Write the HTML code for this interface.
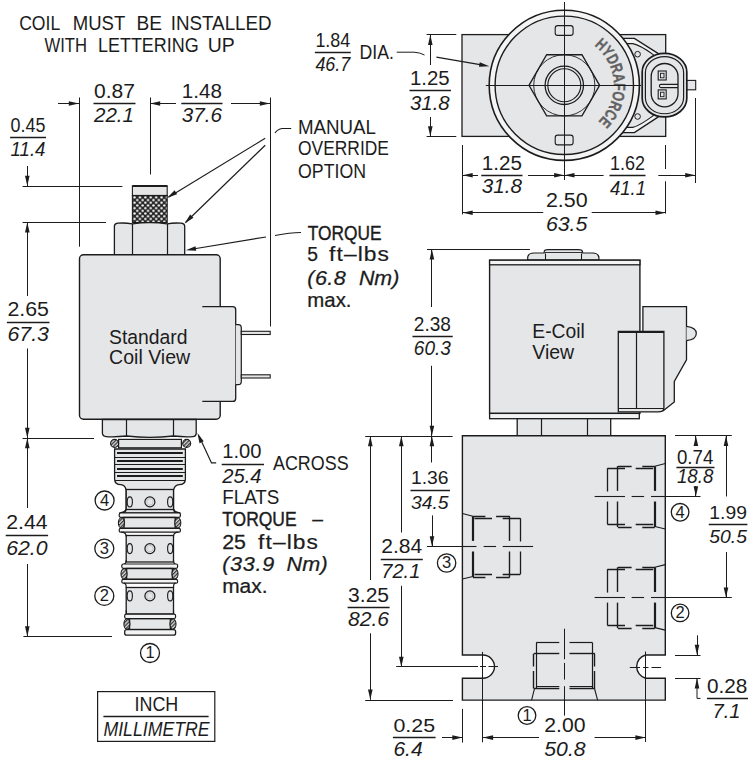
<!DOCTYPE html>
<html><head><meta charset="utf-8"><style>
html,body{margin:0;padding:0;background:#fff;}
svg{display:block;font-family:"Liberation Sans",sans-serif;}
text{white-space:pre;}
</style></head><body>
<svg width="755" height="763" viewBox="0 0 755 763">
<defs>
<pattern id="knurl" width="5.4" height="5.4" patternUnits="userSpaceOnUse" x="133.2" y="196">
<rect width="5.4" height="5.4" fill="#262626"/>
<circle cx="1.35" cy="1.35" r="1.2" fill="#fff"/>
<circle cx="4.05" cy="4.05" r="1.2" fill="#fff"/>
</pattern>
<pattern id="hatch" width="2.6" height="2.6" patternUnits="userSpaceOnUse" patternTransform="rotate(45)">
<rect width="2.6" height="2.6" fill="#d8d8d8"/>
<rect width="1.2" height="2.6" fill="#333"/>
</pattern>
</defs>
<rect width="755" height="763" fill="#fff"/>
<text x="19.2" y="29.7" font-size="19.3" fill="#1c1c1c" textLength="41" lengthAdjust="spacingAndGlyphs" >COIL</text>
<text x="72.8" y="29.7" font-size="19.3" fill="#1c1c1c" textLength="52.5" lengthAdjust="spacingAndGlyphs" >MUST</text>
<text x="136.4" y="29.7" font-size="19.3" fill="#1c1c1c" textLength="25.5" lengthAdjust="spacingAndGlyphs" >BE</text>
<text x="170.7" y="29.7" font-size="19.3" fill="#1c1c1c" textLength="101" lengthAdjust="spacingAndGlyphs" >INSTALLED</text>
<text x="44.5" y="52.2" font-size="19.3" fill="#1c1c1c" textLength="42.5" lengthAdjust="spacingAndGlyphs" >WITH</text>
<text x="98" y="52.2" font-size="19.3" fill="#1c1c1c" textLength="100.7" lengthAdjust="spacingAndGlyphs" >LETTERING</text>
<text transform="translate(207.7,52.2) scale(1.007,1)" font-size="19.3" fill="#1c1c1c" textLength="26.81" lengthAdjust="spacing" >UP</text>
<line x1="79.5" y1="97.5" x2="79.5" y2="246.7" stroke="#1c1c1c" stroke-width="1.0"/>
<line x1="58" y1="103.5" x2="79" y2="103.5" stroke="#1c1c1c" stroke-width="1.0"/>
<path d="M79,103.5 L68.8,105.8 L68.8,101.2 Z" fill="#1c1c1c"/>
<line x1="150.5" y1="97.5" x2="150.5" y2="174.5" stroke="#1c1c1c" stroke-width="1.0"/>
<line x1="150" y1="103.5" x2="176" y2="103.5" stroke="#1c1c1c" stroke-width="1.0"/>
<path d="M150,103.5 L160.2,101.2 L160.2,105.8 Z" fill="#1c1c1c"/>
<line x1="231" y1="103.5" x2="270" y2="103.5" stroke="#1c1c1c" stroke-width="1.0"/>
<path d="M270,103.5 L259.8,105.8 L259.8,101.2 Z" fill="#1c1c1c"/>
<line x1="270.5" y1="97.5" x2="270.5" y2="326.5" stroke="#1c1c1c" stroke-width="1.0"/>
<text transform="translate(94,97.5) scale(1.091,1)" font-size="19.3" fill="#1c1c1c" textLength="37.56" lengthAdjust="spacing" >0.87</text>
<line x1="93.5" y1="103.5" x2="135.5" y2="103.5" stroke="#1c1c1c" stroke-width="1.4"/>
<text transform="translate(94,122.4) scale(1.065,1)" font-size="19.3" fill="#1c1c1c" font-style="italic" textLength="37.56" lengthAdjust="spacing" >22.1</text>
<text transform="translate(181.8,97.5) scale(1.070,1)" font-size="19.3" fill="#1c1c1c" textLength="37.56" lengthAdjust="spacing" >1.48</text>
<line x1="181.3" y1="103.5" x2="222.5" y2="103.5" stroke="#1c1c1c" stroke-width="1.4"/>
<text transform="translate(181.8,122.4) scale(1.070,1)" font-size="19.3" fill="#1c1c1c" font-style="italic" textLength="37.56" lengthAdjust="spacing" >37.6</text>
<text x="10.6" y="131.6" font-size="19.3" fill="#1c1c1c" textLength="34.9" lengthAdjust="spacingAndGlyphs" >0.45</text>
<line x1="10.1" y1="137.5" x2="46" y2="137.5" stroke="#1c1c1c" stroke-width="1.4"/>
<text x="10.6" y="155.5" font-size="19.3" fill="#1c1c1c" font-style="italic" textLength="34.9" lengthAdjust="spacingAndGlyphs" >11.4</text>
<line x1="27.5" y1="166" x2="27.5" y2="186" stroke="#1c1c1c" stroke-width="1.0"/>
<path d="M27.3,186 L25,175.8 L29.6,175.8 Z" fill="#1c1c1c"/>
<line x1="22.5" y1="186.5" x2="122.4" y2="186.5" stroke="#1c1c1c" stroke-width="1.0"/>
<line x1="22.5" y1="222.5" x2="106" y2="222.5" stroke="#1c1c1c" stroke-width="1.0"/>
<line x1="27.5" y1="222.2" x2="27.5" y2="296" stroke="#1c1c1c" stroke-width="1.0"/>
<path d="M27.3,222.2 L29.6,232.4 L25,232.4 Z" fill="#1c1c1c"/>
<text transform="translate(7.4,316.4) scale(1.107,1)" font-size="19.3" fill="#1c1c1c" textLength="37.56" lengthAdjust="spacing" >2.65</text>
<line x1="6.9" y1="322.5" x2="49.5" y2="322.5" stroke="#1c1c1c" stroke-width="1.4"/>
<text transform="translate(7.4,341.3) scale(1.107,1)" font-size="19.3" fill="#1c1c1c" font-style="italic" textLength="37.56" lengthAdjust="spacing" >67.3</text>
<line x1="27.5" y1="348.5" x2="27.5" y2="438" stroke="#1c1c1c" stroke-width="1.0"/>
<path d="M27.3,438 L25,427.8 L29.6,427.8 Z" fill="#1c1c1c"/>
<line x1="22.5" y1="438.5" x2="94" y2="438.5" stroke="#1c1c1c" stroke-width="1.0"/>
<line x1="27.5" y1="438" x2="27.5" y2="508" stroke="#1c1c1c" stroke-width="1.0"/>
<path d="M27.3,438 L29.6,448.2 L25,448.2 Z" fill="#1c1c1c"/>
<text transform="translate(6.2,529.3) scale(1.102,1)" font-size="19.3" fill="#1c1c1c" textLength="37.56" lengthAdjust="spacing" >2.44</text>
<line x1="5.7" y1="535.5" x2="48.1" y2="535.5" stroke="#1c1c1c" stroke-width="1.4"/>
<text transform="translate(6.2,555.2) scale(1.102,1)" font-size="19.3" fill="#1c1c1c" font-style="italic" textLength="37.56" lengthAdjust="spacing" >62.0</text>
<line x1="27.5" y1="564" x2="27.5" y2="636.5" stroke="#1c1c1c" stroke-width="1.0"/>
<path d="M27.3,636.5 L25,626.3 L29.6,626.3 Z" fill="#1c1c1c"/>
<line x1="23.4" y1="636.5" x2="112" y2="636.5" stroke="#1c1c1c" stroke-width="1.0"/>
<text x="298" y="134.1" font-size="19.3" fill="#1c1c1c" textLength="78" lengthAdjust="spacingAndGlyphs" >MANUAL</text>
<text x="298" y="155.4" font-size="19.3" fill="#1c1c1c" textLength="91" lengthAdjust="spacingAndGlyphs" >OVERRIDE</text>
<text x="298" y="177.7" font-size="19.3" fill="#1c1c1c" textLength="68" lengthAdjust="spacingAndGlyphs" >OPTION</text>
<path d="M291.2,128.5 L282,128.5 Q278,129 275,133" fill="none" stroke="#1c1c1c" stroke-width="1.1" />
<line x1="265.2" y1="138.3" x2="168.5" y2="197.2" stroke="#1c1c1c" stroke-width="1.2"/>
<path d="M167.2,197.7 L174.63,190.34 L177.07,194.24 Z" fill="#1c1c1c"/>
<line x1="265.2" y1="145.2" x2="185.5" y2="222.5" stroke="#1c1c1c" stroke-width="1.2"/>
<path d="M184.6,223.4 L190.19,214.56 L193.44,217.81 Z" fill="#1c1c1c"/>
<path d="M301,232.5 Q290,232.5 275,235.5 M266,237 L190,249.5" fill="none" stroke="#1c1c1c" stroke-width="1.2" />
<path d="M185.8,250.2 L195.48,246.25 L196.24,250.79 Z" fill="#1c1c1c"/>
<text x="307.8" y="239.6" font-size="19.3" fill="#1c1c1c" textLength="73.7" lengthAdjust="spacingAndGlyphs" stroke="#1c1c1c" stroke-width="0.4" >TORQUE</text>
<text x="307.3" y="260.8" font-size="19.3" fill="#1c1c1c" stroke="#1c1c1c" stroke-width="0.25" >5</text>
<text transform="translate(329,260.8) scale(1.180,1)" font-size="19.3" fill="#1c1c1c" textLength="50.85" lengthAdjust="spacing" stroke="#1c1c1c" stroke-width="0.2" >ft–lbs</text>
<text transform="translate(307.3,284.6) scale(1.120,1)" font-size="19.3" fill="#1c1c1c" font-style="italic" textLength="34.38" lengthAdjust="spacing" stroke="#1c1c1c" stroke-width="0.25" >(6.8</text>
<text transform="translate(358.9,284.6) scale(1.111,1)" font-size="19.3" fill="#1c1c1c" font-style="italic" textLength="36.44" lengthAdjust="spacing" stroke="#1c1c1c" stroke-width="0.25" >Nm)</text>
<text transform="translate(307.3,306.6) scale(1.057,1)" font-size="19.3" fill="#1c1c1c" textLength="41.82" lengthAdjust="spacing" stroke="#1c1c1c" stroke-width="0.25" >max.</text>
<rect x="132.4" y="185.9" width="34.8" height="9.6" rx="0" fill="#e6e6e6" stroke="#1c1c1c" stroke-width="1.1"/>
<line x1="132.4" y1="186" x2="167.2" y2="186" stroke="#1c1c1c" stroke-width="2.2"/>
<rect x="132.4" y="195.5" width="34.8" height="27" fill="url(#knurl)" stroke="#1c1c1c" stroke-width="1.1"/>
<path d="M114.4,254.8 V226 Q114.6,223.5 118,223.2 Q125,222.6 132.4,223.8 Q150,221.6 167.2,223.8 Q174,222.6 181,223.2 Q184.5,223.5 184.7,226 V254.8 Z" fill="#e5e6e8" stroke="#1c1c1c" stroke-width="1.3" />
<line x1="132.5" y1="223.8" x2="132.5" y2="254.8" stroke="#1c1c1c" stroke-width="1.2"/>
<line x1="167.5" y1="223.8" x2="167.5" y2="254.8" stroke="#1c1c1c" stroke-width="1.2"/>
<rect x="79.5" y="254.8" width="140.7" height="164.5" rx="4" fill="#e5e6e8" stroke="#1c1c1c" stroke-width="1.4"/>
<path d="M202.3,306.7 H232.7 Q235.7,306.7 235.7,309.7 V398.4 Q235.7,401.4 232.7,401.4 H202.3" fill="#e5e6e8" stroke="#1c1c1c" stroke-width="1.3" />
<path d="M235.7,324.6 H238.5 Q241.3,324.6 241.3,328 V381.3 Q241.3,384.7 238.5,384.7 H235.7" fill="#e5e6e8" stroke="#1c1c1c" stroke-width="1.2" />
<rect x="241.3" y="331.3" width="28.9" height="3.2" rx="0" fill="#e5e6e8" stroke="#1c1c1c" stroke-width="1.1"/>
<rect x="241.3" y="374.8" width="28.9" height="3.2" rx="0" fill="#e5e6e8" stroke="#1c1c1c" stroke-width="1.1"/>
<text x="109" y="343.8" font-size="20.5" fill="#1c1c1c" textLength="78.5" lengthAdjust="spacingAndGlyphs" >Standard</text>
<text x="109.1" y="364.3" font-size="20.5" fill="#1c1c1c" textLength="81.1" lengthAdjust="spacingAndGlyphs" >Coil View</text>
<path d="M102.4,419.5 V433.5 Q102.8,436.4 106,436.6 Q115,437.2 126.6,436 Q150,438.6 173.5,436 Q185,437.2 193,436.6 Q196,436.4 196.2,433.5 V419.5 Z" fill="#e5e6e8" stroke="#1c1c1c" stroke-width="1.3" />
<line x1="126.5" y1="419.5" x2="126.5" y2="436.2" stroke="#1c1c1c" stroke-width="1.2"/>
<line x1="173.5" y1="419.5" x2="173.5" y2="436.2" stroke="#1c1c1c" stroke-width="1.2"/>
<path d="M216.2,462.9 H211.5 L199,436" fill="none" stroke="#1c1c1c" stroke-width="1.2" />
<path d="M197.4,433 L203.68,441.36 L199.49,443.25 Z" fill="#1c1c1c"/>
<text transform="translate(222.2,458.1) scale(1.046,1)" font-size="19.3" fill="#1c1c1c" textLength="37.56" lengthAdjust="spacing" >1.00</text>
<line x1="221.7" y1="464.5" x2="264" y2="464.5" stroke="#1c1c1c" stroke-width="1.4"/>
<text transform="translate(222.2,482.5) scale(1.046,1)" font-size="19.3" fill="#1c1c1c" font-style="italic" textLength="37.56" lengthAdjust="spacing" >25.4</text>
<text x="273" y="469.6" font-size="19.3" fill="#1c1c1c" textLength="75.6" lengthAdjust="spacingAndGlyphs" >ACROSS</text>
<text x="222.2" y="503.5" font-size="19.3" fill="#1c1c1c" textLength="57.2" lengthAdjust="spacingAndGlyphs" >FLATS</text>
<text x="222.2" y="526.1" font-size="19.3" fill="#1c1c1c" textLength="74.4" lengthAdjust="spacingAndGlyphs" stroke="#1c1c1c" stroke-width="0.4" >TORQUE</text>
<text x="312.3" y="526.1" font-size="19.3" fill="#1c1c1c" stroke="#1c1c1c" stroke-width="0.25" >–</text>
<text transform="translate(222.2,548.8) scale(1.109,1)" font-size="19.3" fill="#1c1c1c" textLength="21.47" lengthAdjust="spacing" stroke="#1c1c1c" stroke-width="0.25" >25</text>
<text transform="translate(258,548.8) scale(1.180,1)" font-size="19.3" fill="#1c1c1c" textLength="50.85" lengthAdjust="spacing" stroke="#1c1c1c" stroke-width="0.2" >ft–lbs</text>
<text transform="translate(222.2,571.4) scale(1.120,1)" font-size="19.3" fill="#1c1c1c" font-style="italic" textLength="46.43" lengthAdjust="spacing" stroke="#1c1c1c" stroke-width="0.25" >(33.9</text>
<text transform="translate(286.6,571.4) scale(1.120,1)" font-size="19.3" fill="#1c1c1c" font-style="italic" textLength="36.61" lengthAdjust="spacing" stroke="#1c1c1c" stroke-width="0.25" >Nm)</text>
<text transform="translate(222.2,592.9) scale(1.083,1)" font-size="19.3" fill="#1c1c1c" textLength="41.82" lengthAdjust="spacing" stroke="#1c1c1c" stroke-width="0.25" >max.</text>
<rect x="118.6" y="439.4" width="62.8" height="8.4" rx="0" fill="#e5e6e8" stroke="#1c1c1c" stroke-width="1.2"/>
<circle cx="114.6" cy="443.4" r="4" fill="url(#hatch)" stroke="#1c1c1c" stroke-width="1.1"/>
<circle cx="186.7" cy="443.4" r="4" fill="url(#hatch)" stroke="#1c1c1c" stroke-width="1.1"/>
<path d="M114.6,449 H185.4 V479 Q185.4,484.7 179,484.7 Q175,485 173.5,490 V508.5 Q174,512 180.4,513 L119.4,513 Q125.8,512 126.2,508.5 V490 Q124.8,485 121,484.7 Q114.6,484.7 114.6,479 Z" fill="#e5e6e8" stroke="#1c1c1c" stroke-width="1.3" />
<line x1="115" y1="457.5" x2="185" y2="457.5" stroke="#1c1c1c" stroke-width="1.2"/>
<line x1="115" y1="464.5" x2="185" y2="464.5" stroke="#1c1c1c" stroke-width="1.2"/>
<line x1="115" y1="472.5" x2="185" y2="472.5" stroke="#1c1c1c" stroke-width="1.2"/>
<line x1="115" y1="480.5" x2="185" y2="480.5" stroke="#1c1c1c" stroke-width="1.2"/>
<line x1="117" y1="453" x2="182.8" y2="453" stroke="#1c1c1c" stroke-width="2.1"/>
<line x1="117" y1="461" x2="182.8" y2="461" stroke="#1c1c1c" stroke-width="2.1"/>
<line x1="117" y1="469" x2="182.8" y2="469" stroke="#1c1c1c" stroke-width="2.1"/>
<line x1="117" y1="476" x2="182.8" y2="476" stroke="#1c1c1c" stroke-width="2.1"/>
<line x1="125.8" y1="489.5" x2="173.5" y2="489.5" stroke="#1c1c1c" stroke-width="1.0"/>
<rect x="126.2" y="489.5" width="47.3" height="20" rx="0" fill="#e5e6e8" stroke="#1c1c1c" stroke-width="1.3"/>
<ellipse cx="149.9" cy="501.9" rx="5" ry="5" fill="#e5e6e8" stroke="#1c1c1c" stroke-width="1.2"/>
<circle cx="149.9" cy="501.9" r="3.2" fill="none" stroke="#bdbdbd" stroke-width="0.8"/>
<ellipse cx="129.8" cy="501.9" rx="2.6" ry="5" fill="#e5e6e8" stroke="#1c1c1c" stroke-width="1.1"/>
<ellipse cx="170.2" cy="501.9" rx="2.6" ry="5" fill="#e5e6e8" stroke="#1c1c1c" stroke-width="1.1"/>
<rect x="126.2" y="535.5" width="47.3" height="26.5" rx="0" fill="#e5e6e8" stroke="#1c1c1c" stroke-width="1.3"/>
<ellipse cx="149.9" cy="548.6" rx="5" ry="5" fill="#e5e6e8" stroke="#1c1c1c" stroke-width="1.2"/>
<circle cx="149.9" cy="548.6" r="3.2" fill="none" stroke="#bdbdbd" stroke-width="0.8"/>
<ellipse cx="129.8" cy="548.6" rx="2.6" ry="5" fill="#e5e6e8" stroke="#1c1c1c" stroke-width="1.1"/>
<ellipse cx="170.2" cy="548.6" rx="2.6" ry="5" fill="#e5e6e8" stroke="#1c1c1c" stroke-width="1.1"/>
<rect x="126.2" y="587.5" width="47.3" height="26.5" rx="0" fill="#e5e6e8" stroke="#1c1c1c" stroke-width="1.3"/>
<ellipse cx="149.9" cy="595.9" rx="5" ry="5" fill="#e5e6e8" stroke="#1c1c1c" stroke-width="1.2"/>
<circle cx="149.9" cy="595.9" r="3.2" fill="none" stroke="#bdbdbd" stroke-width="0.8"/>
<ellipse cx="129.8" cy="595.9" rx="2.6" ry="5" fill="#e5e6e8" stroke="#1c1c1c" stroke-width="1.1"/>
<ellipse cx="170.2" cy="595.9" rx="2.6" ry="5" fill="#e5e6e8" stroke="#1c1c1c" stroke-width="1.1"/>
<path d="M126.2,509 Q126.2,513 121.2,513 M173.5,509 Q173.5,513 178.4,513" fill="none" stroke="#1c1c1c" stroke-width="1.2" />
<rect x="119.2" y="513" width="61.2" height="4.3" rx="1.5" fill="#f3f3f4" stroke="#1c1c1c" stroke-width="1.2"/>
<rect x="124" y="517.5" width="51.2" height="10.8" rx="0" fill="#e5e6e8" stroke="#1c1c1c" stroke-width="1.4"/>
<ellipse cx="121.4" cy="522.9" rx="3" ry="5.2" fill="url(#hatch)" stroke="#1c1c1c" stroke-width="1.1"/>
<ellipse cx="177.8" cy="522.9" rx="3" ry="5.2" fill="url(#hatch)" stroke="#1c1c1c" stroke-width="1.1"/>
<rect x="119.2" y="528.4" width="61.2" height="3.8" rx="1.5" fill="#f3f3f4" stroke="#1c1c1c" stroke-width="1.2"/>
<path d="M126.2,536.5 Q126.2,532.2 121.2,532.2 M173.5,536.5 Q173.5,532.2 178.4,532.2" fill="none" stroke="#1c1c1c" stroke-width="1.2" />
<path d="M126.2,560 Q126.2,564 123.8,564 M173.5,560 Q173.5,564 175.6,564" fill="none" stroke="#1c1c1c" stroke-width="1.2" />
<rect x="121.8" y="564" width="55.8" height="4.3" rx="1.5" fill="#f3f3f4" stroke="#1c1c1c" stroke-width="1.2"/>
<rect x="126.6" y="568.5" width="45.8" height="10.8" rx="0" fill="#e5e6e8" stroke="#1c1c1c" stroke-width="1.4"/>
<ellipse cx="124" cy="573.9" rx="3" ry="5.2" fill="url(#hatch)" stroke="#1c1c1c" stroke-width="1.1"/>
<ellipse cx="175" cy="573.9" rx="3" ry="5.2" fill="url(#hatch)" stroke="#1c1c1c" stroke-width="1.1"/>
<rect x="121.8" y="579.4" width="55.8" height="3.8" rx="1.5" fill="#f3f3f4" stroke="#1c1c1c" stroke-width="1.2"/>
<path d="M126.2,587.5 Q126.2,583.2 123.8,583.2 M173.5,587.5 Q173.5,583.2 175.6,583.2" fill="none" stroke="#1c1c1c" stroke-width="1.2" />
<path d="M126.2,610.2 Q126.2,614.2 126.7,614.2 M173.5,610.2 Q173.5,614.2 173.6,614.2" fill="none" stroke="#1c1c1c" stroke-width="1.2" />
<rect x="124.7" y="614.2" width="50.9" height="4.3" rx="1.5" fill="#f3f3f4" stroke="#1c1c1c" stroke-width="1.2"/>
<rect x="129.5" y="618.7" width="40.9" height="10.8" rx="0" fill="#e5e6e8" stroke="#1c1c1c" stroke-width="1.4"/>
<ellipse cx="126.9" cy="624.1" rx="3" ry="5.2" fill="url(#hatch)" stroke="#1c1c1c" stroke-width="1.1"/>
<ellipse cx="173" cy="624.1" rx="3" ry="5.2" fill="url(#hatch)" stroke="#1c1c1c" stroke-width="1.1"/>
<rect x="124.7" y="629.6" width="50.9" height="5.6" rx="2" fill="#f3f3f4" stroke="#1c1c1c" stroke-width="1.3"/>
<circle cx="104.6" cy="500.5" r="9.5" fill="none" stroke="#1c1c1c" stroke-width="1.3"/>
<text x="104.6" y="505.9" font-size="16.5" fill="#1c1c1c" text-anchor="middle" >4</text>
<circle cx="104.3" cy="548.6" r="9.5" fill="none" stroke="#1c1c1c" stroke-width="1.3"/>
<text x="104.3" y="554" font-size="16.5" fill="#1c1c1c" text-anchor="middle" >3</text>
<circle cx="104.3" cy="595.9" r="9.5" fill="none" stroke="#1c1c1c" stroke-width="1.3"/>
<text x="104.3" y="601.3" font-size="16.5" fill="#1c1c1c" text-anchor="middle" >2</text>
<circle cx="150" cy="653" r="9.5" fill="none" stroke="#1c1c1c" stroke-width="1.3"/>
<text x="150" y="658.4" font-size="16.5" fill="#1c1c1c" text-anchor="middle" >1</text>
<rect x="97.6" y="691.6" width="117.2" height="49.8" rx="0" fill="none" stroke="#1c1c1c" stroke-width="1.2"/>
<text x="134.5" y="711" font-size="19.3" fill="#1c1c1c" textLength="43.8" lengthAdjust="spacingAndGlyphs" >INCH</text>
<line x1="103.4" y1="716.5" x2="208.6" y2="716.5" stroke="#1c1c1c" stroke-width="1.4"/>
<text x="103.4" y="735.5" font-size="19.3" fill="#1c1c1c" font-style="italic" textLength="106.3" lengthAdjust="spacingAndGlyphs" >MILLIMETRE</text>
<rect x="462" y="34.6" width="203.7" height="101.8" rx="0" fill="#e5e6e8" stroke="#1c1c1c" stroke-width="1.3"/>
<path d="M621.8,38.4 H634.4 L658,53.3 V117 L634.4,132.6 H621.8" fill="#f3f3f4" stroke="#1c1c1c" stroke-width="1.4" />
<path d="M626.5,43.6 H632.8 Q640,45 653.3,54.6 V115.6 Q640,125.5 632.8,127.4 H626.5" fill="#e5e6e8" stroke="#1c1c1c" stroke-width="1.1" />
<circle cx="637.6" cy="54.2" r="2.8" fill="none" stroke="#1c1c1c" stroke-width="1.0"/>
<circle cx="637.6" cy="116.5" r="2.8" fill="none" stroke="#1c1c1c" stroke-width="1.0"/>
<path d="M642.2,72 A22.3,18.7 0 0 1 686.8,72 V98.3 A22.3,18.7 0 0 1 642.2,98.3 Z" fill="#e5e6e8" stroke="#1c1c1c" stroke-width="1.7" />
<path d="M645.4,72.5 A19.1,16 0 0 1 683.6,72.5 V97.8 A19.1,16 0 0 1 645.4,97.8 Z" fill="none" stroke="#1c1c1c" stroke-width="1.2" />
<path d="M651.2,76.5 A13.4,13 0 0 1 678,76.5 V93.8 A13.4,13 0 0 1 651.2,93.8 Z" fill="none" stroke="#1c1c1c" stroke-width="1.3" />
<path d="M678,84.4 H661 Q659.4,84.4 659.4,86 Q659.4,87.6 661,87.6 H678" fill="none" stroke="#1c1c1c" stroke-width="1.1" />
<rect x="658.2" y="71" width="8" height="9" rx="0" fill="#e5e6e8" stroke="#1c1c1c" stroke-width="1.1"/>
<rect x="660.5" y="73.3" width="3.5" height="4.5" rx="0" fill="none" stroke="#1c1c1c" stroke-width="0.9"/>
<rect x="658.2" y="89.9" width="8" height="9" rx="0" fill="#e5e6e8" stroke="#1c1c1c" stroke-width="1.1"/>
<rect x="660.5" y="92.2" width="3.5" height="4.5" rx="0" fill="none" stroke="#1c1c1c" stroke-width="0.9"/>
<rect x="687.1" y="80.4" width="8.6" height="9.4" rx="0" fill="#e5e6e8" stroke="#1c1c1c" stroke-width="1.1"/>
<circle cx="564.3" cy="85.3" r="75.1" fill="#f4f4f5" stroke="#1c1c1c" stroke-width="1.6"/>
<circle cx="564.3" cy="85.3" r="69.2" fill="#e5e6e8" stroke="#1c1c1c" stroke-width="1.4"/>
<rect x="555.2" y="25.6" width="17.9" height="9.8" rx="2.5" fill="#e5e6e8" stroke="#1c1c1c" stroke-width="1.1"/>
<rect x="555.2" y="135.1" width="17.9" height="9.8" rx="2.5" fill="#e5e6e8" stroke="#1c1c1c" stroke-width="1.1"/>
<polygon points="599.6,85.3 581.95,115.87 546.65,115.87 529,85.3 546.65,54.73 581.95,54.73" fill="#e5e6e8" stroke="#1c1c1c" stroke-width="1.3"/>
<circle cx="564.3" cy="85.3" r="30.6" fill="none" stroke="#1c1c1c" stroke-width="0.9"/>
<circle cx="564.3" cy="85.3" r="19.2" fill="#e5e6e8" stroke="#1c1c1c" stroke-width="1.3"/>
<circle cx="564.3" cy="85.3" r="16.5" fill="none" stroke="#1c1c1c" stroke-width="1.1"/>
<line x1="556.8" y1="85.5" x2="571.8" y2="85.5" stroke="#1c1c1c" stroke-width="1.0"/>
<line x1="564.5" y1="77.8" x2="564.5" y2="92.8" stroke="#1c1c1c" stroke-width="1.0"/>
<text transform="translate(597.5,48.58) rotate(42.12) scale(0.742,1)" font-size="16.5" font-weight="bold" fill="#626262" stroke="#626262" stroke-width="0.35" text-anchor="middle">H</text>
<text transform="translate(603.29,54.8) rotate(51.96) scale(0.742,1)" font-size="16.5" font-weight="bold" fill="#626262" stroke="#626262" stroke-width="0.35" text-anchor="middle">Y</text>
<text transform="translate(607.93,61.91) rotate(61.81) scale(0.742,1)" font-size="16.5" font-weight="bold" fill="#626262" stroke="#626262" stroke-width="0.35" text-anchor="middle">D</text>
<text transform="translate(611.39,70.04) rotate(72.04) scale(0.742,1)" font-size="16.5" font-weight="bold" fill="#626262" stroke="#626262" stroke-width="0.35" text-anchor="middle">R</text>
<text transform="translate(613.35,78.65) rotate(82.28) scale(0.742,1)" font-size="16.5" font-weight="bold" fill="#626262" stroke="#626262" stroke-width="0.35" text-anchor="middle">A</text>
<text transform="translate(613.78,86.79) rotate(91.72) scale(0.742,1)" font-size="16.5" font-weight="bold" fill="#626262" stroke="#626262" stroke-width="0.35" text-anchor="middle">F</text>
<text transform="translate(612.8,95.22) rotate(101.56) scale(0.742,1)" font-size="16.5" font-weight="bold" fill="#626262" stroke="#626262" stroke-width="0.35" text-anchor="middle">O</text>
<text transform="translate(610.13,104) rotate(112.19) scale(0.742,1)" font-size="16.5" font-weight="bold" fill="#626262" stroke="#626262" stroke-width="0.35" text-anchor="middle">R</text>
<text transform="translate(606.08,111.84) rotate(122.43) scale(0.742,1)" font-size="16.5" font-weight="bold" fill="#626262" stroke="#626262" stroke-width="0.35" text-anchor="middle">C</text>
<text transform="translate(600.93,118.6) rotate(132.27) scale(0.742,1)" font-size="16.5" font-weight="bold" fill="#626262" stroke="#626262" stroke-width="0.35" text-anchor="middle">E</text>
<line x1="485.8" y1="85.5" x2="641" y2="85.5" stroke="#1c1c1c" stroke-width="1.0"/>
<line x1="564.5" y1="2" x2="564.5" y2="180" stroke="#1c1c1c" stroke-width="1.0"/>
<text x="315.4" y="47.2" font-size="19.3" fill="#1c1c1c" textLength="34.9" lengthAdjust="spacingAndGlyphs" >1.84</text>
<line x1="314.9" y1="52.5" x2="350.8" y2="52.5" stroke="#1c1c1c" stroke-width="1.4"/>
<text x="315.4" y="71" font-size="19.3" fill="#1c1c1c" font-style="italic" textLength="34.9" lengthAdjust="spacingAndGlyphs" >46.7</text>
<text x="359.6" y="58.8" font-size="19.3" fill="#1c1c1c" textLength="34.4" lengthAdjust="spacingAndGlyphs" >DIA.</text>
<path d="M396.7,52.2 H414 Q420,52.5 424.5,55" fill="none" stroke="#1c1c1c" stroke-width="1.0" />
<line x1="436.4" y1="57.2" x2="480" y2="64.6" stroke="#1c1c1c" stroke-width="1.2"/>
<path d="M489.4,66.2 L478.96,66.75 L479.73,62.22 Z" fill="#1c1c1c"/>
<line x1="426.6" y1="34.5" x2="456.3" y2="34.5" stroke="#1c1c1c" stroke-width="1.0"/>
<line x1="426.6" y1="136.5" x2="456.3" y2="136.5" stroke="#1c1c1c" stroke-width="1.0"/>
<line x1="430.5" y1="34.8" x2="430.5" y2="65" stroke="#1c1c1c" stroke-width="1.0"/>
<path d="M430.3,34.8 L432.6,45 L428,45 Z" fill="#1c1c1c"/>
<line x1="430.5" y1="117" x2="430.5" y2="136.4" stroke="#1c1c1c" stroke-width="1.0"/>
<path d="M430.3,136.4 L428,126.2 L432.6,126.2 Z" fill="#1c1c1c"/>
<text transform="translate(410,85.3) scale(1.057,1)" font-size="19.3" fill="#1c1c1c" textLength="37.56" lengthAdjust="spacing" >1.25</text>
<line x1="409.5" y1="90.5" x2="451" y2="90.5" stroke="#1c1c1c" stroke-width="1.4"/>
<text transform="translate(410,110) scale(1.057,1)" font-size="19.3" fill="#1c1c1c" font-style="italic" textLength="37.56" lengthAdjust="spacing" >31.8</text>
<line x1="462.5" y1="145" x2="462.5" y2="214.4" stroke="#1c1c1c" stroke-width="1.0"/>
<line x1="462.5" y1="175.5" x2="478" y2="175.5" stroke="#1c1c1c" stroke-width="1.0"/>
<path d="M462.5,175.2 L472.7,172.9 L472.7,177.5 Z" fill="#1c1c1c"/>
<line x1="528" y1="175.5" x2="564.3" y2="175.5" stroke="#1c1c1c" stroke-width="1.0"/>
<path d="M564.3,175.2 L554.1,177.5 L554.1,172.9 Z" fill="#1c1c1c"/>
<line x1="564.3" y1="175.5" x2="603.6" y2="175.5" stroke="#1c1c1c" stroke-width="1.0"/>
<path d="M564.3,175.2 L574.5,172.9 L574.5,177.5 Z" fill="#1c1c1c"/>
<line x1="658.3" y1="175.5" x2="695.4" y2="175.5" stroke="#1c1c1c" stroke-width="1.0"/>
<path d="M695.4,175.2 L685.2,177.5 L685.2,172.9 Z" fill="#1c1c1c"/>
<line x1="695.5" y1="98" x2="695.5" y2="183" stroke="#1c1c1c" stroke-width="1.0"/>
<line x1="665.5" y1="145" x2="665.5" y2="169" stroke="#1c1c1c" stroke-width="1.0"/>
<line x1="665.5" y1="181.3" x2="665.5" y2="213.6" stroke="#1c1c1c" stroke-width="1.0"/>
<text transform="translate(481.8,169.5) scale(1.070,1)" font-size="19.3" fill="#1c1c1c" textLength="37.56" lengthAdjust="spacing" >1.25</text>
<line x1="481.3" y1="175.5" x2="522.5" y2="175.5" stroke="#1c1c1c" stroke-width="1.4"/>
<text transform="translate(481.8,193.4) scale(1.070,1)" font-size="19.3" fill="#1c1c1c" font-style="italic" textLength="37.56" lengthAdjust="spacing" >31.8</text>
<text x="610" y="169.5" font-size="19.3" fill="#1c1c1c" textLength="35" lengthAdjust="spacingAndGlyphs" >1.62</text>
<line x1="609.5" y1="175.5" x2="645.5" y2="175.5" stroke="#1c1c1c" stroke-width="1.4"/>
<text x="610" y="194.7" font-size="19.3" fill="#1c1c1c" font-style="italic" textLength="36" lengthAdjust="spacingAndGlyphs" >41.1</text>
<line x1="462.5" y1="212.5" x2="543.2" y2="212.5" stroke="#1c1c1c" stroke-width="1.0"/>
<path d="M462.5,212.8 L472.7,210.5 L472.7,215.1 Z" fill="#1c1c1c"/>
<line x1="591.7" y1="212.5" x2="665.7" y2="212.5" stroke="#1c1c1c" stroke-width="1.0"/>
<path d="M665.7,212.8 L655.5,215.1 L655.5,210.5 Z" fill="#1c1c1c"/>
<text transform="translate(545.9,207) scale(1.113,1)" font-size="19.3" fill="#1c1c1c" textLength="37.56" lengthAdjust="spacing" >2.50</text>
<text transform="translate(545.9,230.8) scale(1.105,1)" font-size="19.3" fill="#1c1c1c" font-style="italic" textLength="37.56" lengthAdjust="spacing" >63.5</text>
<line x1="427" y1="249.5" x2="530" y2="249.5" stroke="#1c1c1c" stroke-width="1.0"/>
<line x1="431.5" y1="249.3" x2="431.5" y2="307" stroke="#1c1c1c" stroke-width="1.0"/>
<path d="M431.9,249.3 L434.2,259.5 L429.6,259.5 Z" fill="#1c1c1c"/>
<text x="413.8" y="330.5" font-size="19.3" fill="#1c1c1c" textLength="37.1" lengthAdjust="spacingAndGlyphs" >2.38</text>
<line x1="412.5" y1="336.5" x2="452.7" y2="336.5" stroke="#1c1c1c" stroke-width="1.4"/>
<text x="413.8" y="355.4" font-size="19.3" fill="#1c1c1c" font-style="italic" textLength="37.1" lengthAdjust="spacingAndGlyphs" >60.3</text>
<line x1="431.5" y1="365.8" x2="431.5" y2="436" stroke="#1c1c1c" stroke-width="1.0"/>
<path d="M431.9,436 L429.6,425.8 L434.2,425.8 Z" fill="#1c1c1c"/>
<line x1="365.2" y1="436.5" x2="452.6" y2="436.5" stroke="#1c1c1c" stroke-width="1.0"/>
<line x1="431.5" y1="436" x2="431.5" y2="462.5" stroke="#1c1c1c" stroke-width="1.0"/>
<path d="M431.9,436 L434.2,446.2 L429.6,446.2 Z" fill="#1c1c1c"/>
<text transform="translate(411,484.2) scale(1.001,1)" font-size="19.3" fill="#1c1c1c" textLength="37.56" lengthAdjust="spacing" >1.36</text>
<line x1="410.5" y1="490.5" x2="450" y2="490.5" stroke="#1c1c1c" stroke-width="1.4"/>
<text transform="translate(411,508.8) scale(1.001,1)" font-size="19.3" fill="#1c1c1c" font-style="italic" textLength="37.56" lengthAdjust="spacing" >34.5</text>
<line x1="432.5" y1="515.4" x2="432.5" y2="546.4" stroke="#1c1c1c" stroke-width="1.0"/>
<path d="M432,546.4 L429.7,536.2 L434.3,536.2 Z" fill="#1c1c1c"/>
<line x1="427" y1="546.5" x2="462.4" y2="546.5" stroke="#1c1c1c" stroke-width="1.0"/>
<circle cx="446.6" cy="563" r="9.2" fill="none" stroke="#1c1c1c" stroke-width="1.3"/>
<text x="446.6" y="568.4" font-size="16.5" fill="#1c1c1c" text-anchor="middle" >3</text>
<line x1="401.5" y1="436" x2="401.5" y2="532.5" stroke="#1c1c1c" stroke-width="1.0"/>
<path d="M401.3,436 L403.6,446.2 L399,446.2 Z" fill="#1c1c1c"/>
<text transform="translate(381.3,553.3) scale(1.091,1)" font-size="19.3" fill="#1c1c1c" textLength="37.56" lengthAdjust="spacing" >2.84</text>
<line x1="380.8" y1="559.5" x2="422.8" y2="559.5" stroke="#1c1c1c" stroke-width="1.4"/>
<text transform="translate(381.3,577.7) scale(1.038,1)" font-size="19.3" fill="#1c1c1c" font-style="italic" textLength="37.56" lengthAdjust="spacing" >72.1</text>
<line x1="401.5" y1="585.8" x2="401.5" y2="666.9" stroke="#1c1c1c" stroke-width="1.0"/>
<path d="M401.3,666.9 L399,656.7 L403.6,656.7 Z" fill="#1c1c1c"/>
<line x1="396.2" y1="666.5" x2="475" y2="666.5" stroke="#1c1c1c" stroke-width="1.0"/>
<line x1="370.5" y1="436" x2="370.5" y2="580" stroke="#1c1c1c" stroke-width="1.0"/>
<path d="M370.3,436 L372.6,446.2 L368,446.2 Z" fill="#1c1c1c"/>
<text transform="translate(348.1,601.5) scale(1.091,1)" font-size="19.3" fill="#1c1c1c" textLength="37.56" lengthAdjust="spacing" >3.25</text>
<line x1="347.6" y1="607.5" x2="389.6" y2="607.5" stroke="#1c1c1c" stroke-width="1.4"/>
<text transform="translate(348.1,625.9) scale(1.091,1)" font-size="19.3" fill="#1c1c1c" font-style="italic" textLength="37.56" lengthAdjust="spacing" >82.6</text>
<line x1="370.5" y1="633.3" x2="370.5" y2="699.8" stroke="#1c1c1c" stroke-width="1.0"/>
<path d="M370.3,699.8 L368,689.6 L372.6,689.6 Z" fill="#1c1c1c"/>
<line x1="365.2" y1="700.5" x2="453" y2="700.5" stroke="#1c1c1c" stroke-width="1.0"/>
<path d="M527.7,260.2 V257 Q528.5,253 534,253 H544.2 V251.5 Q544.6,249.6 548,249.6 H578.5 Q582,249.6 582.5,251.5 V253 H592.5 Q598,253 598.9,257 V260.2 Z" fill="#e5e6e8" stroke="#1c1c1c" stroke-width="1.2" />
<line x1="545.5" y1="253.5" x2="545.5" y2="260.2" stroke="#1c1c1c" stroke-width="1.1"/>
<line x1="581.5" y1="253.5" x2="581.5" y2="260.2" stroke="#1c1c1c" stroke-width="1.1"/>
<line x1="545" y1="252.5" x2="582" y2="252.5" stroke="#1c1c1c" stroke-width="0.9"/>
<rect x="489.6" y="260.2" width="150.3" height="153.2" rx="0" fill="#e5e6e8" stroke="#1c1c1c" stroke-width="1.4"/>
<rect x="489.6" y="260.2" width="150.3" height="4.6" rx="0" fill="#f3f3f4" stroke="#1c1c1c" stroke-width="1.3"/>
<rect x="489.6" y="413.4" width="149.7" height="5.3" rx="0" fill="#f3f3f4" stroke="#1c1c1c" stroke-width="1.3"/>
<path d="M642.9,331.3 V306.7 H686.5 V359.8 L674.3,381.4 V402 L662.9,410.9" fill="#e5e6e8" stroke="#1c1c1c" stroke-width="1.3" />
<path d="M686.5,326.4 Q696.3,327.5 696.3,333.5 Q696.3,339.6 686.5,340.7" fill="#e5e6e8" stroke="#1c1c1c" stroke-width="1.2" />
<path d="M618.3,331.3 H663.9 V408 Q663.9,411.9 658,411.9 H618.3 Z" fill="#e5e6e8" stroke="#1c1c1c" stroke-width="1.3" />
<line x1="618.3" y1="332" x2="663.9" y2="332" stroke="#1c1c1c" stroke-width="2.0"/>
<line x1="636.5" y1="331.3" x2="636.5" y2="408" stroke="#1c1c1c" stroke-width="1.2"/>
<line x1="618.3" y1="408.5" x2="663.9" y2="408.5" stroke="#1c1c1c" stroke-width="1.1"/>
<text x="532.3" y="337.8" font-size="20.5" fill="#1c1c1c" textLength="52.5" lengthAdjust="spacingAndGlyphs" >E-Coil</text>
<text x="532.3" y="359" font-size="20.5" fill="#1c1c1c" textLength="41.9" lengthAdjust="spacingAndGlyphs" >View</text>
<rect x="517.2" y="418.7" width="93.5" height="17" rx="0" fill="#e5e6e8" stroke="#1c1c1c" stroke-width="1.3"/>
<line x1="541.5" y1="418.7" x2="541.5" y2="435.7" stroke="#1c1c1c" stroke-width="1.2"/>
<line x1="587.5" y1="418.7" x2="587.5" y2="435.7" stroke="#1c1c1c" stroke-width="1.2"/>
<path d="M462.4,435.7 H665.3 V655 H645.6 A12,12 0 0 0 645.6,678.2 H665.3 V700.1 H462.4 V678.2 H482.9 A11.6,11.6 0 0 0 482.9,655 H462.4 Z" fill="#e5e6e8" stroke="#1c1c1c" stroke-width="1.4" />
<line x1="462.4" y1="513.5" x2="472.9" y2="516.2" stroke="#1c1c1c" stroke-width="1.1"/>
<line x1="462.4" y1="579" x2="472.9" y2="576.5" stroke="#1c1c1c" stroke-width="1.1"/>
<line x1="472.9" y1="516.5" x2="509.9" y2="516.5" stroke="#1c1c1c" stroke-width="1.5" stroke-dasharray="12.5,10.7,13.7"/>
<line x1="472.9" y1="577.5" x2="509.9" y2="577.5" stroke="#1c1c1c" stroke-width="1.5" stroke-dasharray="12.5,10.7,13.7"/>
<line x1="473" y1="516.2" x2="473" y2="540.9" stroke="#1c1c1c" stroke-width="2.2"/>
<line x1="473" y1="551.5" x2="473" y2="577" stroke="#1c1c1c" stroke-width="2.2"/>
<line x1="509.5" y1="516.2" x2="509.5" y2="540.9" stroke="#1c1c1c" stroke-width="1.4"/>
<line x1="509.5" y1="551.5" x2="509.5" y2="577" stroke="#1c1c1c" stroke-width="1.4"/>
<line x1="474.5" y1="518.5" x2="520.3" y2="518.5" stroke="#1c1c1c" stroke-width="1.3" stroke-dasharray="17.5,10.7,17.6"/>
<line x1="474.5" y1="574.5" x2="520.3" y2="574.5" stroke="#1c1c1c" stroke-width="1.3" stroke-dasharray="17.5,10.7,17.6"/>
<line x1="520.5" y1="518.2" x2="520.5" y2="541.5" stroke="#1c1c1c" stroke-width="1.3"/>
<line x1="520.5" y1="551.5" x2="520.5" y2="574.3" stroke="#1c1c1c" stroke-width="1.3"/>
<line x1="462.4" y1="546.5" x2="476.5" y2="546.5" stroke="#1c1c1c" stroke-width="1.1"/>
<line x1="483.6" y1="546.5" x2="496.1" y2="546.5" stroke="#1c1c1c" stroke-width="1.1"/>
<line x1="502.7" y1="546.5" x2="533.1" y2="546.5" stroke="#1c1c1c" stroke-width="1.1"/>
<line x1="665.3" y1="463.5" x2="654.8" y2="466.2" stroke="#1c1c1c" stroke-width="1.1"/>
<line x1="665.3" y1="529" x2="654.8" y2="526.5" stroke="#1c1c1c" stroke-width="1.1"/>
<line x1="654.8" y1="466.5" x2="617.8" y2="466.5" stroke="#1c1c1c" stroke-width="1.5" stroke-dasharray="12.5,10.7,13.7"/>
<line x1="654.8" y1="527.5" x2="617.8" y2="527.5" stroke="#1c1c1c" stroke-width="1.5" stroke-dasharray="12.5,10.7,13.7"/>
<line x1="655" y1="466.2" x2="655" y2="490.9" stroke="#1c1c1c" stroke-width="2.2"/>
<line x1="655" y1="501.5" x2="655" y2="527" stroke="#1c1c1c" stroke-width="2.2"/>
<line x1="617.5" y1="466.2" x2="617.5" y2="490.9" stroke="#1c1c1c" stroke-width="1.4"/>
<line x1="617.5" y1="501.5" x2="617.5" y2="527" stroke="#1c1c1c" stroke-width="1.4"/>
<line x1="653.2" y1="468.5" x2="607.4" y2="468.5" stroke="#1c1c1c" stroke-width="1.3" stroke-dasharray="17.5,10.7,17.6"/>
<line x1="653.2" y1="524.5" x2="607.4" y2="524.5" stroke="#1c1c1c" stroke-width="1.3" stroke-dasharray="17.5,10.7,17.6"/>
<line x1="607.5" y1="468.2" x2="607.5" y2="491.5" stroke="#1c1c1c" stroke-width="1.3"/>
<line x1="607.5" y1="501.5" x2="607.5" y2="524.3" stroke="#1c1c1c" stroke-width="1.3"/>
<line x1="665.3" y1="496.5" x2="651.2" y2="496.5" stroke="#1c1c1c" stroke-width="1.1"/>
<line x1="644.1" y1="496.5" x2="631.6" y2="496.5" stroke="#1c1c1c" stroke-width="1.1"/>
<line x1="625" y1="496.5" x2="594.6" y2="496.5" stroke="#1c1c1c" stroke-width="1.1"/>
<line x1="665.3" y1="564.6" x2="654.8" y2="567.3" stroke="#1c1c1c" stroke-width="1.1"/>
<line x1="665.3" y1="630.1" x2="654.8" y2="627.6" stroke="#1c1c1c" stroke-width="1.1"/>
<line x1="654.8" y1="567.5" x2="617.8" y2="567.5" stroke="#1c1c1c" stroke-width="1.5" stroke-dasharray="12.5,10.7,13.7"/>
<line x1="654.8" y1="628.5" x2="617.8" y2="628.5" stroke="#1c1c1c" stroke-width="1.5" stroke-dasharray="12.5,10.7,13.7"/>
<line x1="655" y1="567.3" x2="655" y2="592" stroke="#1c1c1c" stroke-width="2.2"/>
<line x1="655" y1="602.6" x2="655" y2="628.1" stroke="#1c1c1c" stroke-width="2.2"/>
<line x1="617.5" y1="567.3" x2="617.5" y2="592" stroke="#1c1c1c" stroke-width="1.4"/>
<line x1="617.5" y1="602.6" x2="617.5" y2="628.1" stroke="#1c1c1c" stroke-width="1.4"/>
<line x1="653.2" y1="569.5" x2="607.4" y2="569.5" stroke="#1c1c1c" stroke-width="1.3" stroke-dasharray="17.5,10.7,17.6"/>
<line x1="653.2" y1="625.5" x2="607.4" y2="625.5" stroke="#1c1c1c" stroke-width="1.3" stroke-dasharray="17.5,10.7,17.6"/>
<line x1="607.5" y1="569.3" x2="607.5" y2="592.6" stroke="#1c1c1c" stroke-width="1.3"/>
<line x1="607.5" y1="602.6" x2="607.5" y2="625.4" stroke="#1c1c1c" stroke-width="1.3"/>
<line x1="665.3" y1="597.5" x2="651.2" y2="597.5" stroke="#1c1c1c" stroke-width="1.1"/>
<line x1="644.1" y1="597.5" x2="631.6" y2="597.5" stroke="#1c1c1c" stroke-width="1.1"/>
<line x1="625" y1="597.5" x2="594.6" y2="597.5" stroke="#1c1c1c" stroke-width="1.1"/>
<line x1="531.6" y1="700.1" x2="534.5" y2="688.5" stroke="#1c1c1c" stroke-width="1.1"/>
<line x1="597.6" y1="700.1" x2="594.5" y2="688.5" stroke="#1c1c1c" stroke-width="1.1"/>
<line x1="533.9" y1="688.5" x2="559.3" y2="688.5" stroke="#1c1c1c" stroke-width="1.5"/>
<line x1="569.5" y1="688.5" x2="594.8" y2="688.5" stroke="#1c1c1c" stroke-width="1.5"/>
<line x1="536.2" y1="686.5" x2="559.3" y2="686.5" stroke="#1c1c1c" stroke-width="1.0"/>
<line x1="569.5" y1="686.5" x2="592.5" y2="686.5" stroke="#1c1c1c" stroke-width="1.0"/>
<line x1="536.2" y1="642.5" x2="559.3" y2="642.5" stroke="#1c1c1c" stroke-width="1.2"/>
<line x1="569.5" y1="642.5" x2="592.5" y2="642.5" stroke="#1c1c1c" stroke-width="1.2"/>
<line x1="533.9" y1="653.5" x2="559.3" y2="653.5" stroke="#1c1c1c" stroke-width="1.4"/>
<line x1="569.5" y1="653.5" x2="594.8" y2="653.5" stroke="#1c1c1c" stroke-width="1.4"/>
<line x1="536.5" y1="642.6" x2="536.5" y2="688.5" stroke="#1c1c1c" stroke-width="1.2"/>
<line x1="592.5" y1="642.6" x2="592.5" y2="688.5" stroke="#1c1c1c" stroke-width="1.2"/>
<line x1="533.5" y1="653.7" x2="533.5" y2="666.5" stroke="#1c1c1c" stroke-width="1.4"/>
<line x1="533.5" y1="671" x2="533.5" y2="688.5" stroke="#1c1c1c" stroke-width="1.4"/>
<line x1="594.5" y1="653.7" x2="594.5" y2="666.5" stroke="#1c1c1c" stroke-width="1.4"/>
<line x1="594.5" y1="671" x2="594.5" y2="688.5" stroke="#1c1c1c" stroke-width="1.4"/>
<line x1="564.5" y1="628.7" x2="564.5" y2="659.3" stroke="#1c1c1c" stroke-width="1.0"/>
<line x1="564.5" y1="662.9" x2="564.5" y2="679.6" stroke="#1c1c1c" stroke-width="1.0"/>
<line x1="564.5" y1="686.2" x2="564.5" y2="715.6" stroke="#1c1c1c" stroke-width="1.0"/>
<line x1="629.8" y1="667.5" x2="640" y2="667.5" stroke="#1c1c1c" stroke-width="1.0"/>
<line x1="643" y1="667.5" x2="648.5" y2="667.5" stroke="#1c1c1c" stroke-width="1.0"/>
<line x1="651.5" y1="667.5" x2="661.1" y2="667.5" stroke="#1c1c1c" stroke-width="1.0"/>
<line x1="645.5" y1="651.6" x2="645.5" y2="742" stroke="#1c1c1c" stroke-width="1.0"/>
<line x1="442" y1="666.5" x2="478" y2="666.5" stroke="#1c1c1c" stroke-width="1.0"/>
<line x1="480" y1="666.5" x2="486" y2="666.5" stroke="#1c1c1c" stroke-width="1.0"/>
<line x1="488.5" y1="666.5" x2="498" y2="666.5" stroke="#1c1c1c" stroke-width="1.0"/>
<line x1="482.5" y1="651.9" x2="482.5" y2="742.3" stroke="#1c1c1c" stroke-width="1.0"/>
<line x1="675" y1="435.5" x2="731.8" y2="435.5" stroke="#1c1c1c" stroke-width="1.0"/>
<line x1="695.5" y1="435.7" x2="695.5" y2="446" stroke="#1c1c1c" stroke-width="1.0"/>
<path d="M695.9,435.7 L698.2,445.9 L693.6,445.9 Z" fill="#1c1c1c"/>
<text x="676.9" y="463.6" font-size="19.3" fill="#1c1c1c" textLength="36.4" lengthAdjust="spacingAndGlyphs" >0.74</text>
<line x1="676.4" y1="467.5" x2="714.5" y2="467.5" stroke="#1c1c1c" stroke-width="1.4"/>
<text x="676.9" y="482.6" font-size="19.3" fill="#1c1c1c" font-style="italic" textLength="36.4" lengthAdjust="spacingAndGlyphs" >18.8</text>
<line x1="695.5" y1="486" x2="695.5" y2="496.5" stroke="#1c1c1c" stroke-width="1.0"/>
<path d="M695.9,496.5 L693.6,486.3 L698.2,486.3 Z" fill="#1c1c1c"/>
<line x1="651" y1="496.5" x2="700.5" y2="496.5" stroke="#1c1c1c" stroke-width="1.0"/>
<circle cx="680.1" cy="512.3" r="8.8" fill="none" stroke="#1c1c1c" stroke-width="1.3"/>
<text x="680.1" y="517.7" font-size="16.5" fill="#1c1c1c" text-anchor="middle" >4</text>
<line x1="726.5" y1="435.7" x2="726.5" y2="496.5" stroke="#1c1c1c" stroke-width="1.0"/>
<path d="M726,435.7 L728.3,445.9 L723.7,445.9 Z" fill="#1c1c1c"/>
<text transform="translate(709.3,518.5) scale(1.001,1)" font-size="19.3" fill="#1c1c1c" textLength="37.56" lengthAdjust="spacing" >1.99</text>
<line x1="708.8" y1="524.5" x2="747.4" y2="524.5" stroke="#1c1c1c" stroke-width="1.4"/>
<text transform="translate(709.3,542.9) scale(1.001,1)" font-size="19.3" fill="#1c1c1c" font-style="italic" textLength="37.56" lengthAdjust="spacing" >50.5</text>
<line x1="726.5" y1="552" x2="726.5" y2="597.6" stroke="#1c1c1c" stroke-width="1.0"/>
<path d="M726,597.6 L723.7,587.4 L728.3,587.4 Z" fill="#1c1c1c"/>
<line x1="651" y1="597.5" x2="731.8" y2="597.5" stroke="#1c1c1c" stroke-width="1.0"/>
<circle cx="680.1" cy="612.9" r="8.8" fill="none" stroke="#1c1c1c" stroke-width="1.3"/>
<text x="680.1" y="618.3" font-size="16.5" fill="#1c1c1c" text-anchor="middle" >2</text>
<line x1="675" y1="655.5" x2="700.5" y2="655.5" stroke="#1c1c1c" stroke-width="1.0"/>
<line x1="675" y1="678.5" x2="700.5" y2="678.5" stroke="#1c1c1c" stroke-width="1.0"/>
<line x1="697.5" y1="635.3" x2="697.5" y2="655" stroke="#1c1c1c" stroke-width="1.0"/>
<path d="M697,655 L694.7,644.8 L699.3,644.8 Z" fill="#1c1c1c"/>
<path d="M697,678.2 V698.4 H700.5" fill="none" stroke="#1c1c1c" stroke-width="1.0" />
<path d="M697,678.2 L699.3,688.4 L694.7,688.4 Z" fill="#1c1c1c"/>
<text transform="translate(707,692.6) scale(1.076,1)" font-size="19.3" fill="#1c1c1c" textLength="37.56" lengthAdjust="spacing" >0.28</text>
<line x1="707" y1="698.5" x2="748" y2="698.5" stroke="#1c1c1c" stroke-width="1.4"/>
<text transform="translate(712.5,717.6) scale(1.044,1)" font-size="19.3" fill="#1c1c1c" font-style="italic" textLength="26.83" lengthAdjust="spacing" >7.1</text>
<line x1="462.5" y1="708.9" x2="462.5" y2="742.6" stroke="#1c1c1c" stroke-width="1.0"/>
<line x1="442" y1="737.5" x2="462.5" y2="737.5" stroke="#1c1c1c" stroke-width="1.0"/>
<path d="M462.5,737.6 L452.3,739.9 L452.3,735.3 Z" fill="#1c1c1c"/>
<line x1="482.9" y1="737.5" x2="539" y2="737.5" stroke="#1c1c1c" stroke-width="1.0"/>
<path d="M482.9,737.6 L493.1,735.3 L493.1,739.9 Z" fill="#1c1c1c"/>
<line x1="594.5" y1="737.5" x2="645.6" y2="737.5" stroke="#1c1c1c" stroke-width="1.0"/>
<path d="M645.6,737.6 L635.4,739.9 L635.4,735.3 Z" fill="#1c1c1c"/>
<text transform="translate(393.4,732.3) scale(1.110,1)" font-size="19.3" fill="#1c1c1c" textLength="37.56" lengthAdjust="spacing" >0.25</text>
<line x1="392.9" y1="737.5" x2="435.6" y2="737.5" stroke="#1c1c1c" stroke-width="1.4"/>
<text transform="translate(393.4,756.4) scale(1.088,1)" font-size="19.3" fill="#1c1c1c" font-style="italic" textLength="26.83" lengthAdjust="spacing" >6.4</text>
<text transform="translate(544.3,731.8) scale(1.099,1)" font-size="19.3" fill="#1c1c1c" textLength="37.56" lengthAdjust="spacing" >2.00</text>
<text transform="translate(544.3,756.4) scale(1.099,1)" font-size="19.3" fill="#1c1c1c" font-style="italic" textLength="37.56" lengthAdjust="spacing" >50.8</text>
<circle cx="527" cy="715.5" r="8.8" fill="none" stroke="#1c1c1c" stroke-width="1.3"/>
<text x="527" y="720.9" font-size="16.5" fill="#1c1c1c" text-anchor="middle" >1</text>
</svg>
</body></html>
